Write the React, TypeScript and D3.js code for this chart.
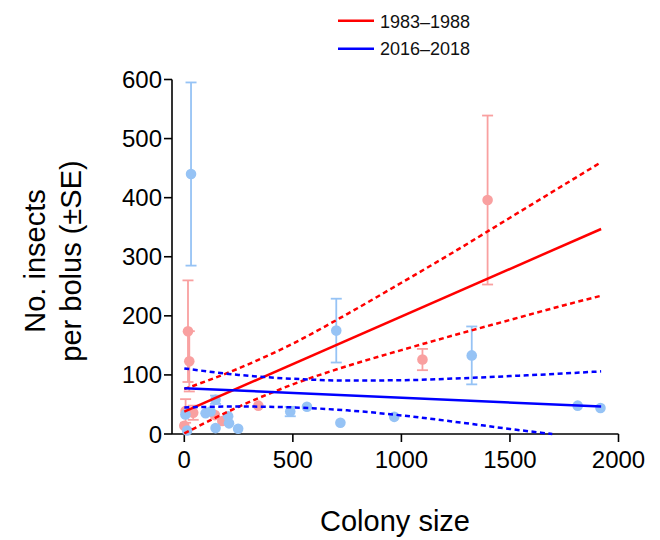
import React from "react";
import * as d3 from "d3";

// ---- data ----
const redX = [1397, 1097, 17, 23, 6, 41, 0, 141, 175, 341];
const redY = [396, 126, 174, 123, 39, 36, 14, 32, 22, 48];
const redSE = [143, 18, 86, 51, 20, 12, 0, 0, 0, 0];

const blueX = [31, 700, 1324, 488, 144, 1812, 1917, 967, 719, 565, 98, 121, 202, 206, 144, 248, 5, 13];
const blueY = [440, 175, 133, 38, 58, 48, 44, 29, 19, 46, 35, 38, 30, 18, 10, 9, 33, 6];
const blueSE = [155, 54, 49, 8, 7, 0, 0, 0, 0, 0, 0, 0, 0, 0, 0, 0, 0, 0];

const fitX = [0, 1920];
const redFitY = [38, 347];
const blueFitY = [77.5, 46.5];

const redCiX = [0, 250, 500, 750, 1000, 1250, 1500, 1750, 1920];
const redUpper = [76, 111, 153, 203, 256, 310, 366, 422, 460];
const redLower = [1, 46, 84, 115, 142, 168, 193, 218, 234];

const blueUpperX = [0, 250, 500, 750, 1000, 1250, 1500, 1750, 1920];
const blueUpper = [111, 100, 93.5, 90.5, 91, 94, 98, 102.5, 106];
const blueLowerX = [0, 250, 500, 750, 1000, 1250, 1500, 1695];
const blueLower = [45, 46.5, 45, 40, 31.5, 20.5, 8.5, 0];

const xTicks = [0, 500, 1000, 1500, 2000];
const yTicks = [0, 100, 200, 300, 400, 500, 600];

const legendLabels = ["1983\u20131988", "2016\u20132018"];

const FONT = "'Liberation Sans', Arial, Helvetica, sans-serif";
const RED = "#ff0000";
const BLUE = "#0000ff";
const PINK = "#f9a0a0";
const LBLUE = "#96c3f5";

export default function App() {
  const x = d3.scaleLinear().domain([0, 2000]).range([184.3, 618.5]);
  const y = d3.scaleLinear().domain([0, 600]).range([434, 79.5]);
  const line = d3
    .line<[number, number]>()
    .x((d) => x(d[0]))
    .y((d) => y(d[1]));
  const curve = d3
    .line<[number, number]>()
    .x((d) => x(d[0]))
    .y((d) => y(d[1]))
    .curve(d3.curveMonotoneX);

  const zip = (a: number[], b: number[]) => a.map((v, i) => [v, b[i]] as [number, number]);

  const axisLeft = 172;
  const axisBottom = 434;

  const renderPoints = (xs: number[], ys: number[], se: number[], color: string) => (
    <g>
      {xs.map((xv, i) =>
        se[i] > 0 ? (
          <g key={"e" + i} stroke={color} strokeWidth={1.8}>
            <line x1={x(xv)} x2={x(xv)} y1={y(ys[i] - se[i])} y2={y(ys[i] + se[i])} />
            <line x1={x(xv) - 5.5} x2={x(xv) + 5.5} y1={y(ys[i] + se[i])} y2={y(ys[i] + se[i])} />
            <line x1={x(xv) - 5.5} x2={x(xv) + 5.5} y1={y(ys[i] - se[i])} y2={y(ys[i] - se[i])} />
          </g>
        ) : null
      )}
      {xs.map((xv, i) => (
        <circle key={"c" + i} cx={x(xv)} cy={y(ys[i])} r={5.3} fill={color} />
      ))}
    </g>
  );

  return (
    <svg
      width={660}
      height={540}
      style={{ position: "absolute", left: 0, top: 0, background: "#fff" }}
      fontFamily={FONT}
    >
      {/* legend */}
      {legendLabels.map((lab, i) => (
        <g key={lab}>
          <line
            x1={338}
            x2={374}
            y1={20.7 + i * 28}
            y2={20.7 + i * 28}
            stroke={i === 0 ? RED : BLUE}
            strokeWidth={2.5}
          />
          <text x={380} y={27.5 + i * 27.5} fontSize={18} fill="#111">
            {lab}
          </text>
        </g>
      ))}

      {/* axes */}
      <g stroke="#000" strokeWidth={1.6} fill="none">
        <line x1={axisLeft} x2={axisLeft} y1={y(600)} y2={axisBottom} />
        <line x1={axisLeft} x2={x(2000)} y1={axisBottom} y2={axisBottom} />
        {yTicks.map((t) => (
          <line key={"yt" + t} x1={axisLeft - 8} x2={axisLeft} y1={y(t)} y2={y(t)} />
        ))}
        {xTicks.map((t) => (
          <line key={"xt" + t} x1={x(t)} x2={x(t)} y1={axisBottom} y2={axisBottom + 8} />
        ))}
      </g>
      {yTicks.map((t) => (
        <text key={"yl" + t} x={162} y={y(t) + 8.5} fontSize={24} textAnchor="end" fill="#000">
          {t}
        </text>
      ))}
      {xTicks.map((t) => (
        <text key={"xl" + t} x={x(t)} y={468} fontSize={24} textAnchor="middle" fill="#000">
          {t}
        </text>
      ))}

      {/* axis titles */}
      <text x={395} y={531} fontSize={29} textAnchor="middle" fill="#000">
        Colony size
      </text>
      <g transform="translate(0,261) rotate(-90)">
        <text x={0} y={45} fontSize={29} textAnchor="middle" fill="#000">
          No. insects
        </text>
        <text x={0} y={81} fontSize={29} textAnchor="middle" fill="#000">
          per bolus (±SE)
        </text>
      </g>

      {/* data points */}
      {renderPoints(redX, redY, redSE, PINK)}
      {renderPoints(blueX, blueY, blueSE, LBLUE)}

      {/* fits and confidence bands */}
      <g fill="none" strokeWidth={2.5}>
        <path d={line(zip(fitX, redFitY)) || ""} stroke={RED} />
        <path d={curve(zip(redCiX, redUpper)) || ""} stroke={RED} strokeDasharray="5,3.5" />
        <path d={curve(zip(redCiX, redLower)) || ""} stroke={RED} strokeDasharray="5,3.5" />
        <path d={line(zip(fitX, blueFitY)) || ""} stroke={BLUE} />
        <path d={curve(zip(blueUpperX, blueUpper)) || ""} stroke={BLUE} strokeDasharray="5,3.5" />
        <path d={curve(zip(blueLowerX, blueLower)) || ""} stroke={BLUE} strokeDasharray="5,3.5" />
      </g>
    </svg>
  );
}
